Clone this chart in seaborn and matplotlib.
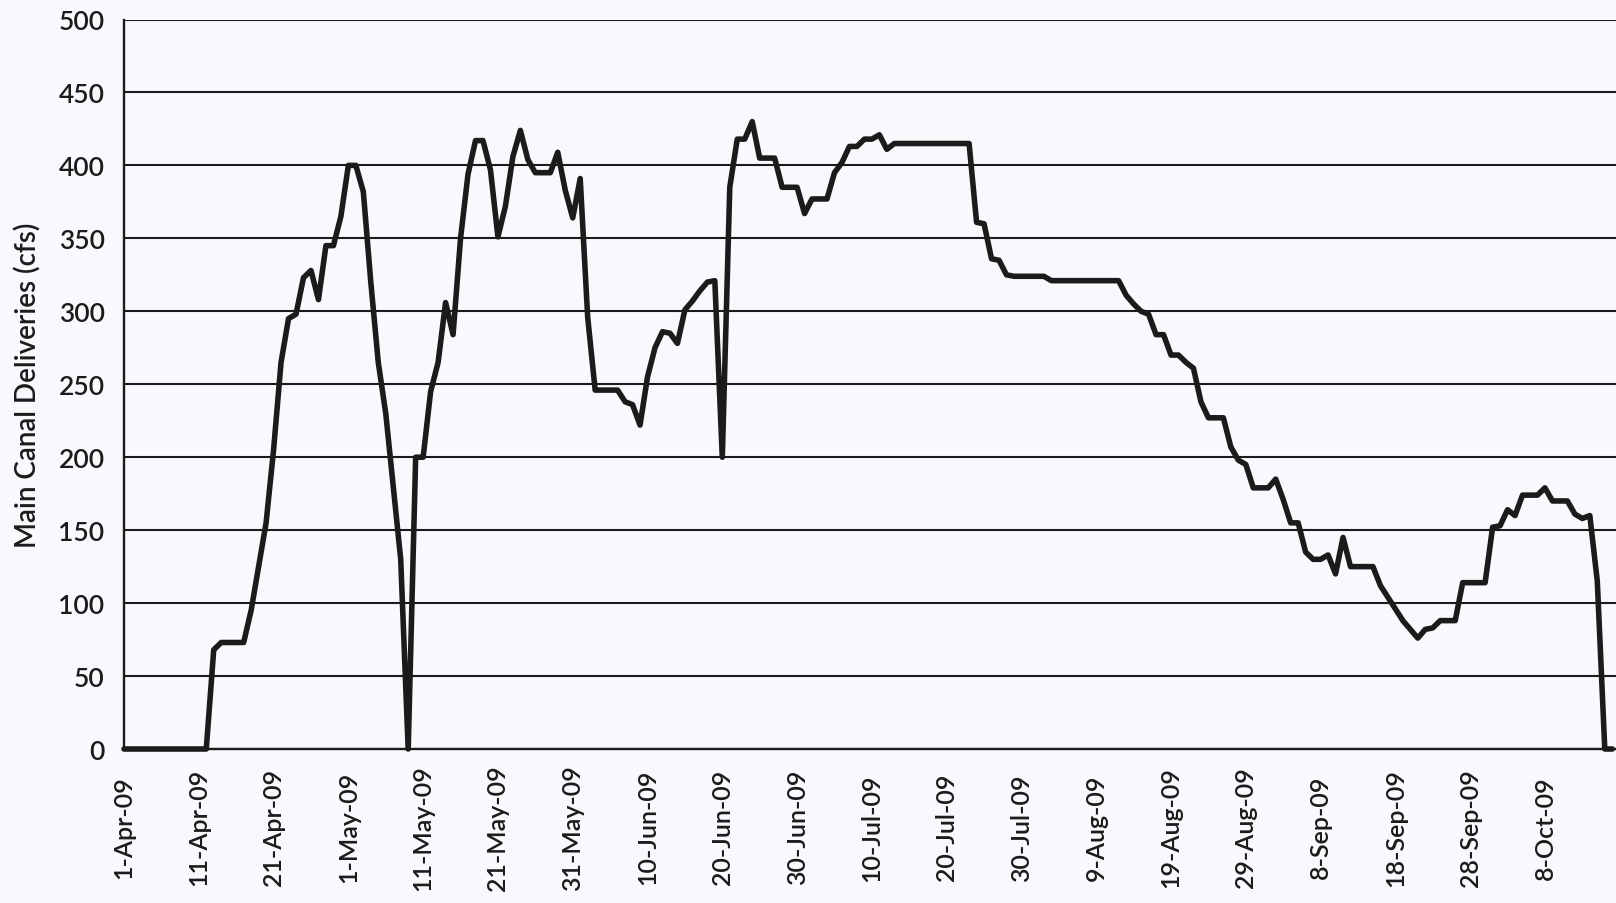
import matplotlib
matplotlib.use("Agg")
import matplotlib.pyplot as plt
import seaborn as sns
import pandas as pd

# ---- data (daily Main Canal deliveries, cfs, starting 1-Apr-2009) ----
start_date = "2009-04-01"
deliveries_cfs = [
    0, 0, 0, 0, 0, 0, 0, 0, 0, 0,
    0, 0, 68, 73, 73, 73, 73, 95, 125, 155,
    205, 265, 295, 298, 323, 328, 308, 345, 345, 365,
    400, 400, 382, 320, 265, 230, 180, 130, 0, 200,
    200, 245, 265, 306, 284, 350, 394, 417, 417, 397,
    351, 372, 406, 424, 404, 395, 395, 395, 409, 383,
    364, 391, 296, 246, 246, 246, 246, 238, 236, 222,
    255, 275, 286, 285, 278, 301, 307, 314, 320, 321,
    200, 385, 418, 418, 430, 405, 405, 405, 385, 385,
    385, 367, 377, 377, 377, 395, 402, 413, 413, 418,
    418, 421, 411, 415, 415, 415, 415, 415, 415, 415,
    415, 415, 415, 415, 361, 360, 336, 335, 325, 324,
    324, 324, 324, 324, 321, 321, 321, 321, 321, 321,
    321, 321, 321, 321, 311, 305, 300, 298, 284, 284,
    270, 270, 265, 261, 238, 227, 227, 227, 207, 198,
    195, 179, 179, 179, 185, 171, 155, 155, 135, 130,
    130, 133, 120, 145, 125, 125, 125, 125, 112, 104,
    96, 88, 82, 76, 82, 83, 88, 88, 88, 114,
    114, 114, 114, 152, 153, 164, 160, 174, 174, 174,
    179, 170, 170, 170, 161, 158, 160, 115, 0, 0,
]
y_ticks = [0, 50, 100, 150, 200, 250, 300, 350, 400, 450, 500]
y_label = "Main Canal Deliveries (cfs)"

dates = pd.date_range(start_date, periods=len(deliveries_cfs), freq="D")
df = pd.DataFrame({"date": dates, "cfs": deliveries_cfs})

sns.set_style("white")
plt.rcParams["font.family"] = ["Lato", "DejaVu Sans"]

bg = "#f8f9fc"
ink = "#1b1b1b"
W, H = 1616, 904
fig = plt.figure(figsize=(W / 100, H / 100), dpi=100, facecolor=bg)
left_px, bottom_px, top_px = 124, 750, 20.5
ax = fig.add_axes([left_px / W, 1 - bottom_px / H, 1 - left_px / W, (bottom_px - top_px) / H])
ax.set_facecolor(bg)

sns.lineplot(data=df, x="date", y="cfs", ax=ax, color=ink, linewidth=4.0, legend=False)
for ln in ax.lines:
    ln.set_clip_on(False)

ax.set_ylim(y_ticks[0], y_ticks[-1])
ax.set_yticks(y_ticks)
ax.yaxis.grid(True, color=ink, linewidth=1.5)
ax.xaxis.grid(False)
ax.set_axisbelow(True)

ax.set_xlim(dates[0], dates[0] + pd.Timedelta(days=199.5))
major = pd.date_range(start_date, dates[-1], freq="10D")
minor = pd.date_range(start_date, dates[-1], freq="2D")
ax.set_xticks(major)
ax.set_xticklabels([f"{d.day}-{d.strftime('%b-%y')}" for d in major],
                   rotation=90, va="center", fontweight="semibold")
ax.set_xticks(minor, minor=True)
for lbl in ax.get_yticklabels():
    lbl.set_fontweight("semibold")

ax.tick_params(axis="x", which="major", direction="in", length=7, width=1.3,
               pad=56, labelsize=18, colors=ink)
ax.tick_params(axis="x", which="minor", direction="in", length=4, width=1.2, colors=ink)
ax.tick_params(axis="y", direction="out", length=10, width=1.5, pad=4,
               labelsize=19, colors=ink)

for s in ["top", "right"]:
    ax.spines[s].set_visible(False)
for s in ["left", "bottom"]:
    ax.spines[s].set_color(ink)
    ax.spines[s].set_linewidth(1.7)

ax.set_xlabel("")
ax.set_ylabel(y_label, fontsize=20, color=ink, fontweight="semibold")
ax.yaxis.set_label_coords(-0.0555, 0.5)

fig.savefig("out.png", dpi=100, facecolor=bg)
